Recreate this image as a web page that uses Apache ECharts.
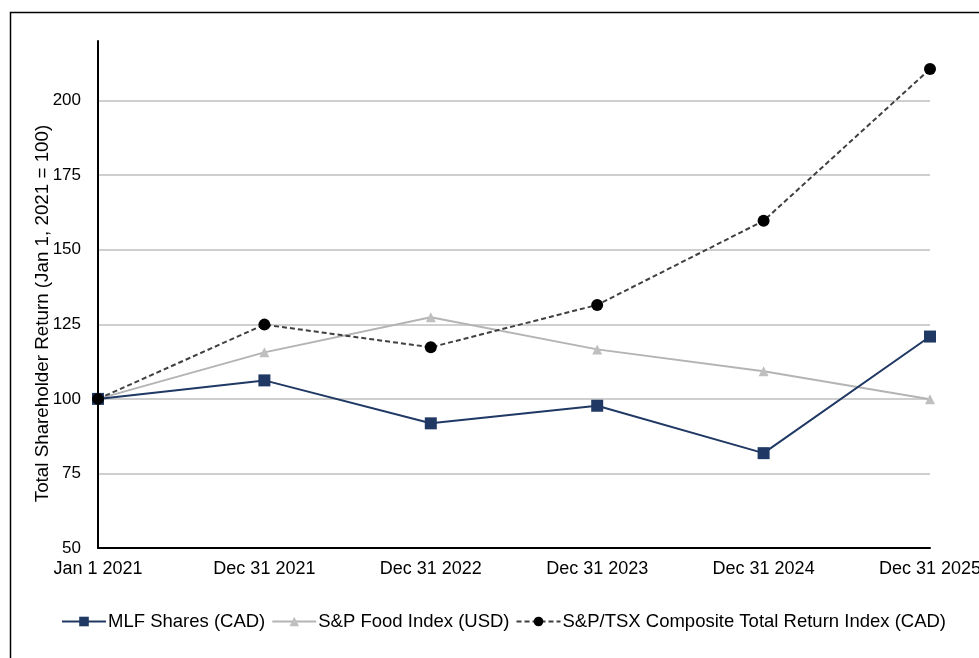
<!DOCTYPE html>
<html>
<head>
<meta charset="utf-8">
<script src="https://cdn.jsdelivr.net/npm/echarts@6/dist/echarts.min.js"></script>
<style>
html,body{margin:0;padding:0;background:#fff;}
#chart{width:979px;height:658px;}
</style>
</head>
<body>
<div id="chart"></div>
<script>
const categories = ['Jan 1 2021', 'Dec 31 2021', 'Dec 31 2022', 'Dec 31 2023', 'Dec 31 2024', 'Dec 31 2025'];
const mlfShares = [100, 106.2, 91.8, 97.7, 81.8, 120.9];
const spFood = [100, 115.6, 127.4, 116.6, 109.3, 99.9];
const spTsx = [100, 124.9, 117.3, 131.5, 159.7, 210.6];
const yMin = 50, yMax = 220, yInterval = 25;

const FONT = '"Liberation Sans", Arial, sans-serif';
const chart = echarts.init(document.getElementById('chart'), null, {renderer: 'canvas'});
chart.setOption({
  animation: false,
  backgroundColor: '#ffffff',
  graphic: [{
    type: 'rect', left: 8, top: 10, z: -10,
    shape: {x: 0, y: 0, width: 1000, height: 700},
    style: {fill: 'none', stroke: '#000000', lineWidth: 1.5}
  }],
  grid: {left: 98, right: 49, top: 41, bottom: 110, containLabel: false, outerBoundsMode: 'none'},
  legend: {
    left: 56, top: 607,
    itemWidth: 44, itemHeight: 12, itemGap: 6,
    textStyle: {fontFamily: FONT, fontSize: 18.5, color: '#000000', padding: [0, 0, 0, -3]},
    data: ['MLF Shares (CAD)', 'S&P Food Index (USD)', 'S&P/TSX Composite Total Return Index (CAD)']
  },
  xAxis: {
    type: 'category', data: categories, boundaryGap: false,
    axisLine: {lineStyle: {color: '#000000', width: 2}},
    axisTick: {show: false},
    axisLabel: {fontFamily: FONT, fontSize: 18, color: '#000000', margin: 12, interval: 0},
    splitLine: {show: false}
  },
  yAxis: {
    type: 'value', min: yMin, max: yMax, interval: yInterval,
    name: 'Total Shareholder Return (Jan 1, 2021 = 100)',
    nameLocation: 'middle', nameGap: 46, nameRotate: 90, nameMoveOverlap: false,
    nameTextStyle: {fontFamily: FONT, fontSize: 18.8, color: '#000000', padding: [0, 38, 0, 0]},
    axisLine: {show: true, lineStyle: {color: '#000000', width: 2}},
    axisTick: {show: false},
    axisLabel: {fontFamily: FONT, fontSize: 17, color: '#000000', margin: 17, showMaxLabel: false},
    splitLine: {show: true, showMaxLine: false, lineStyle: {color: '#bfbfbf', width: 1.5}}
  },
  series: [
    {
      name: 'MLF Shares (CAD)', type: 'line', data: mlfShares,
      symbol: 'rect', symbolSize: 12, z: 3,
      lineStyle: {color: '#1f3864', width: 2},
      itemStyle: {color: '#1f3864'}
    },
    {
      name: 'S&P Food Index (USD)', type: 'line', data: spFood,
      symbol: 'triangle', symbolSize: 10, z: 2,
      lineStyle: {color: '#b4b4b4', width: 2},
      itemStyle: {color: '#bfbfbf'}
    },
    {
      name: 'S&P/TSX Composite Total Return Index (CAD)', type: 'line', data: spTsx,
      symbol: 'circle', symbolSize: 12, z: 4,
      lineStyle: {color: '#404040', width: 2, type: [5, 3]},
      itemStyle: {color: '#000000'}
    }
  ]
});
</script>
</body>
</html>
